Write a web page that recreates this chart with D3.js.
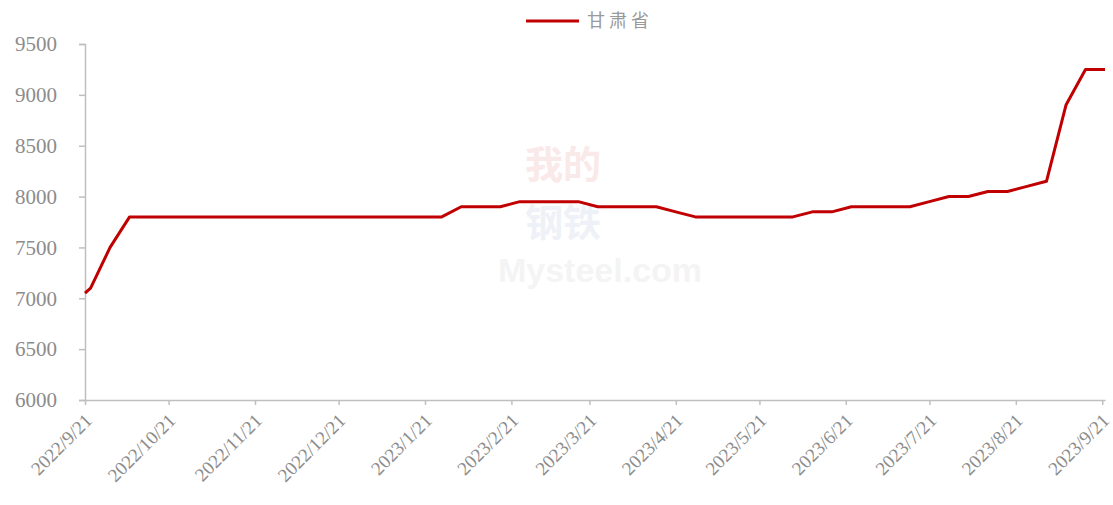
<!DOCTYPE html>
<html>
<head>
<meta charset="utf-8">
<script src="https://cdn.jsdelivr.net/npm/d3@7"></script>
<style>
  body { margin: 0; background: #fff; }
  svg { display: block; }
</style>
</head>
<body>
<svg id="chart"></svg>
<script>
// weekly price, 甘肃省
let dates = [
  "2022-09-21", "2022-09-23", "2022-09-30", "2022-10-07", "2023-01-27",
  "2023-02-03", "2023-02-17", "2023-02-24", "2023-03-17", "2023-03-24",
  "2023-04-14", "2023-04-21", "2023-04-28", "2023-06-02", "2023-06-09",
  "2023-06-16", "2023-06-23", "2023-07-14", "2023-07-21", "2023-07-28",
  "2023-08-04", "2023-08-11", "2023-08-18", "2023-08-25", "2023-09-01",
  "2023-09-08", "2023-09-15", "2023-09-22"
];
let values = [
  7050, 7100, 7500, 7800, 7800,
  7900, 7900, 7950, 7950, 7900,
  7900, 7850, 7800, 7800, 7850,
  7850, 7900, 7900, 7950, 8000,
  8000, 8050, 8050, 8100, 8150,
  8900, 9250, 9250
];
let tickDates = [
  "2022-09-21", "2022-10-21", "2022-11-21", "2022-12-21", "2023-01-21",
  "2023-02-21", "2023-03-21", "2023-04-21", "2023-05-21", "2023-06-21",
  "2023-07-21", "2023-08-21", "2023-09-21"
];
let yTicks = [6000, 6500, 7000, 7500, 8000, 8500, 9000, 9500];
let seriesName = "甘肃省";

let width = 1113, height = 505;
let margin = { left: 85, right: 8, top: 44, bottom: 105 };
let parse = d3.timeParse("%Y-%m-%d");
let data = dates.map((d, i) => ({ date: parse(d), value: values[i] }));

let svg = d3.select("#chart").attr("width", width).attr("height", height);

let x = d3.scaleTime()
  .domain([parse("2022-09-21"), parse("2023-09-22")])
  .range([margin.left, width - margin.right]);
let y = d3.scaleLinear()
  .domain([6000, 9500])
  .range([height - margin.bottom, margin.top]);

let axisColor = "#bfbfbf";
let textColor = "#8c8c8c";
let serif = "'Liberation Serif', 'DejaVu Serif', serif";

// faint watermark
let wm = svg.append("g").attr("class", "watermark");
wm.append("text").attr("x", 563).attr("y", 178).attr("text-anchor", "middle")
  .style("font-family", "'Noto Sans CJK SC'").style("font-weight", "bold")
  .style("font-size", "38px").style("fill", "#f9e9e9").text("我的");
wm.append("text").attr("x", 563).attr("y", 236).attr("text-anchor", "middle")
  .style("font-family", "'Noto Sans CJK SC'").style("font-weight", "bold")
  .style("font-size", "38px").style("fill", "#eef1f7").text("钢铁");
wm.append("text").attr("x", 600).attr("y", 282).attr("text-anchor", "middle")
  .style("font-family", "'Liberation Sans', sans-serif").style("font-weight", "bold")
  .style("font-size", "34px").style("fill", "#f4f4f4").text("Mysteel.com");

// y axis
let yAxis = svg.append("g")
  .attr("transform", `translate(${margin.left},0)`)
  .call(d3.axisLeft(y).tickValues(yTicks).tickSize(6).tickPadding(22).tickFormat(d3.format("d")));
yAxis.select(".domain").attr("stroke", axisColor).attr("stroke-width", 1.5);
yAxis.selectAll(".tick line").attr("stroke", axisColor).attr("stroke-width", 1.5);
yAxis.selectAll("text")
  .style("font-family", serif).style("font-size", "21px").style("fill", textColor);

// x axis
let xAxis = svg.append("g")
  .attr("transform", `translate(0,${height - margin.bottom})`)
  .call(d3.axisBottom(x).tickValues(tickDates.map(parse)).tickSize(5).tickSizeOuter(0)
    .tickFormat(d3.timeFormat("%Y/%-m/%-d")));
xAxis.select(".domain").attr("stroke", axisColor).attr("stroke-width", 1.5);
xAxis.selectAll(".tick line").attr("stroke", axisColor).attr("stroke-width", 1.5);
xAxis.selectAll("text")
  .attr("text-anchor", "end")
  .attr("y", 0)
  .attr("dy", "0.35em")
  .attr("transform", "translate(3,17) rotate(-45)")
  .style("font-family", serif).style("font-size", "19px").style("fill", textColor);

// line
let line = d3.line().x(d => x(d.date)).y(d => y(d.value));
svg.append("path")
  .datum(data)
  .attr("d", line)
  .attr("fill", "none")
  .attr("stroke", "#c00000")
  .attr("stroke-width", 3)
  .attr("stroke-linejoin", "round");

// legend
let legend = svg.append("g").attr("transform", "translate(526,21)");
legend.append("line").attr("x1", 0).attr("x2", 53).attr("y1", 0).attr("y2", 0)
  .attr("stroke", "#c00000").attr("stroke-width", 3);
legend.append("text").attr("x", 61).attr("y", 0).attr("dy", "0.35em")
  .style("font-family", "'Noto Sans CJK SC'").style("font-size", "18px")
  .style("fill", "#9a9a9a").style("letter-spacing", "4px").text(seriesName);
</script>
</body>
</html>
